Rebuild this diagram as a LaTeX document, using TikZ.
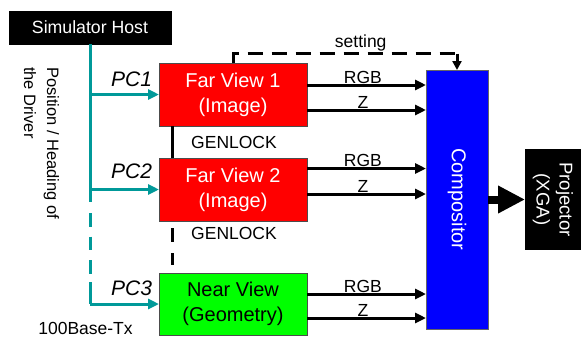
\documentclass[tikz,border=0pt]{standalone}
\usepackage{fontspec}
\setmainfont{Liberation Sans}
\usetikzlibrary{arrows.meta,calc}
\definecolor{tealc}{RGB}{0,153,153}
\begin{document}
\begin{tikzpicture}[x=1pt,y=-1pt,
  every node/.style={inner sep=0pt, outer sep=0pt},
  box/.style={draw=black!70, line width=0.8pt, minimum width=148pt, minimum height=63pt, align=center, font=\fontsize{20}{25}\selectfont},
  tl/.style={draw=tealc, line width=3pt},
  tla/.style={tl, -{Triangle[length=11pt,width=10pt]}},
  blk/.style={draw=black, line width=3pt},
  blka/.style={blk, -{Triangle[length=11pt,width=10pt]}},
  lbl/.style={font=\fontsize{17.5}{21}\selectfont},
  pc/.style={font=\fontsize{21}{25}\selectfont\itshape},
  vtext/.style={rotate=-90, align=center, text=white},
]
\useasboundingbox (0,0) rectangle (581,338);

% boxes
\node[draw=black, fill=black, text=white, minimum width=162pt, minimum height=33pt, font=\fontsize{17.7}{21}\selectfont] (host) at (90,27.5) {Simulator Host};
\node[box, fill=red, text=white] (fv1) at (233,94.5) {Far View 1\\(Image)};
\node[box, fill=red, text=white] (fv2) at (233,189.5) {Far View 2\\(Image)};
\node[box, fill=green, text=black, minimum height=62pt] (near) at (233,304) {Near View\\(Geometry)};
\node[draw=black!60, line width=0.8pt, fill=blue, minimum width=62pt, minimum height=259pt] (comp) at (457,199.5) {};
\node[vtext, font=\fontsize{20}{24}\selectfont] (comptext) at (comp.center) {Compositor};
\node[fill=black, minimum width=56pt, minimum height=101pt] (proj) at (553,199.5) {};
\node[vtext, font=\fontsize{18.5}{23}\selectfont] (projtext) at (proj.center) {Projector\\(XGA)};

% left texts
\node[rotate=-90, anchor=north west, align=left, font=\fontsize{16.5}{23}\selectfont] (pos) at (59,67) {Position / Heading of\\the Driver};
\node[lbl] (base) at (85.5,328) {100Base-Tx};
\node[pc, anchor=base east] (pc1) at ($(fv1.west)+(-7,-8.5)$) {PC1};
\node[pc, anchor=base east] (pc2) at ($(fv2.west)+(-7,-11.5)$) {PC2};
\node[pc, anchor=base east] (pc3) at ($(near.west)+(-7,-9)$) {PC3};

% teal network
\coordinate (t1) at ($(host.south)+(0,158)$);
\coordinate (t2) at ($(host.south)+(0,169)$);
\coordinate (t3) at ($(host.south)+(0,229.5)$);
\coordinate (t4) at ($(host.south)+(0,238)$);
\draw[tl] (host.south) -- (t1);
\draw[tl, dash pattern=on 13.5pt off 10pt] (t2) -- (t3);
\draw[tl] (t4) -- (host.south |- near.west);
\draw[tla] (host.south |- fv1.west) -- (fv1.west);
\draw[tla] (host.south |- fv2.west) -- (fv2.west);
\draw[tla] (host.south |- near.west) -- (near.west);

% genlock
\draw[blk] ([xshift=-61pt]fv1.south) -- ([xshift=-61pt]fv2.north);
\draw[blk, dash pattern=on 14pt off 11pt, shorten <=7pt, shorten >=8pt] ([xshift=-61pt]fv2.south) -- ([xshift=-61pt]near.north);
\node[lbl] (gl1) at ($(fv1.south)!0.5!(fv2.north)+(1,0)$) {GENLOCK};
\node[lbl] (gl2) at ($(fv2.south)!0.5!(near.north)+(1,-14)$) {GENLOCK};

% RGB / Z
\draw[blka] ([yshift=9.5pt]fv1.east) coordinate (a1) -- (a1 -| comp.west) node[lbl, pos=0.47, above=1.5pt] (l1) {RGB};
\draw[blka] ([yshift=-15.5pt]fv1.east) coordinate (a2) -- (a2 -| comp.west) node[lbl, pos=0.47, above=1.5pt] (l2) {Z};
\draw[blka] ([yshift=21pt]fv2.east) coordinate (a3) -- (a3 -| comp.west) node[lbl, pos=0.47, above=1.5pt] (l3) {RGB};
\draw[blka] ([yshift=-4.5pt]fv2.east) coordinate (a4) -- (a4 -| comp.west) node[lbl, pos=0.47, above=1.5pt] (l4) {Z};
\draw[blka] ([yshift=10pt]near.east) coordinate (a5) -- (a5 -| comp.west) node[lbl, pos=0.47, above=1.5pt] (l5) {RGB};
\draw[blka] ([yshift=-14pt]near.east) coordinate (a6) -- (a6 -| comp.west) node[lbl, pos=0.47, above=1.5pt] (l6) {Z};

% setting
\coordinate (s1) at ($(fv1.north)+(0,-9.5)$);
\draw[blk, dash pattern=on 15pt off 9pt] (fv1.north) -- (s1) -- (s1 -| comp.north) node[lbl, pos=0.57, above=2pt] (set) {setting};
\draw[blk, -{Triangle[length=9pt,width=9pt]}] (s1 -| comp.north) -- (comp.north);

% to projector
\draw[line width=8pt, -{Triangle[length=27pt,width=26pt]}] (comp.east) -- (proj.west);
\end{tikzpicture}
\end{document}
